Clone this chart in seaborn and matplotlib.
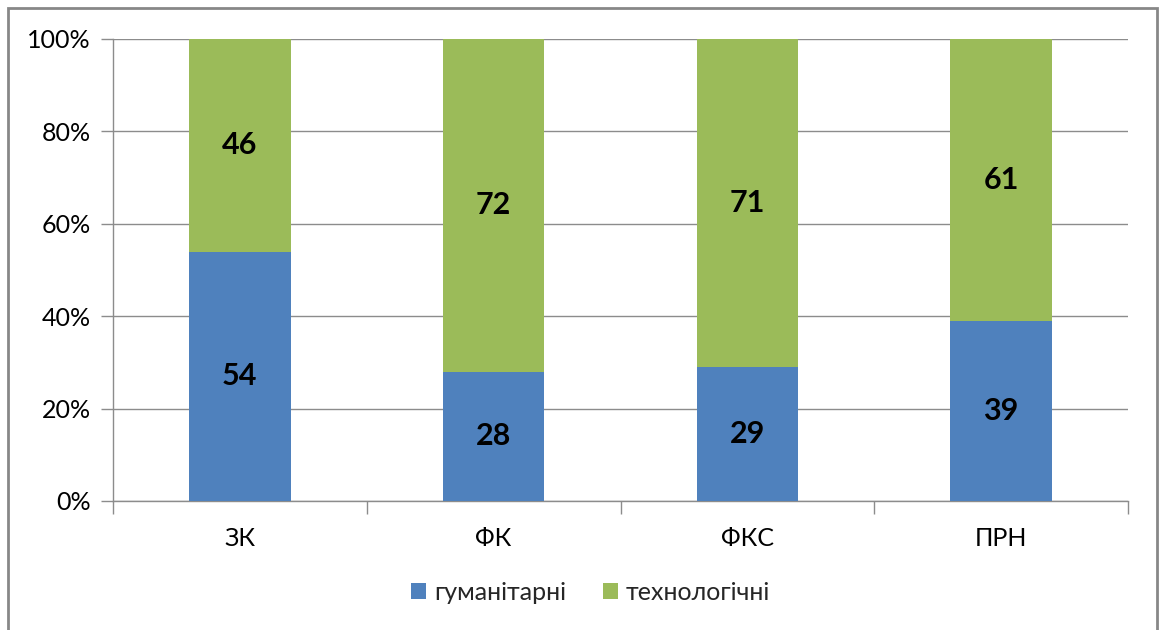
import pandas as pd
import seaborn as sns
import matplotlib.pyplot as plt
from matplotlib.patches import Rectangle
from matplotlib.ticker import FixedLocator, PercentFormatter

# data
categories = ["ЗК", "ФК", "ФКС", "ПРН"]
humanitarian = [54, 28, 29, 39]
technological = [46, 72, 71, 61]
series_names = ["гуманітарні", "технологічні"]

blue = "#4F81BD"
green = "#9BBB59"
grid_col = "#8C8C8C"

sns.set_style("white")
plt.rcParams["font.family"] = ["Lato", "DejaVu Sans"]

df = pd.DataFrame({"cat": categories, "hum": humanitarian, "tech": technological})

fig = plt.figure(figsize=(11.63, 6.3), dpi=100)
ax = fig.add_axes([113 / 1163, 129 / 630, 1015 / 1163, 462 / 630])

# bottom segment
sns.barplot(data=df, x="cat", y="hum", color=blue, width=0.4, saturation=1,
            linewidth=0, ax=ax, label=series_names[0], zorder=3)
# top segment stacked on the bottom one
sns.barplot(data=df, x="cat", y="tech", color=green, width=0.4, saturation=1,
            linewidth=0, bottom=df["hum"], ax=ax, label=series_names[1], zorder=3)

for cont in ax.containers:
    ax.bar_label(cont, labels=[f"{v:.0f}" for v in cont.datavalues],
                 label_type="center", fontsize=22, fontweight="bold", color="black")

ax.set_ylim(0, 100)
ax.set_xlim(-0.5, len(categories) - 0.5)
ax.set_yticks(range(0, 101, 20))
ax.yaxis.set_major_formatter(PercentFormatter(decimals=0))
ax.yaxis.grid(True, color=grid_col, linewidth=1, zorder=0)
ax.set_xlabel("")
ax.set_ylabel("")

# category dividers as ticks below the axis
ax.xaxis.set_minor_locator(FixedLocator([i - 0.5 for i in range(len(categories) + 1)]))
ax.tick_params(axis="x", which="major", length=0, pad=19, labelsize=18, colors="black")
ax.tick_params(axis="x", which="minor", length=9, width=1, color=grid_col, bottom=True)
ax.tick_params(axis="y", length=9, width=1, color=grid_col, left=True, pad=7,
               labelsize=18, labelcolor="black")

for s in ["top", "right"]:
    ax.spines[s].set_visible(False)
for s in ["left", "bottom"]:
    ax.spines[s].set_color(grid_col)
    ax.spines[s].set_linewidth(1)

leg = ax.legend(loc="center", bbox_to_anchor=(0.508, 0.06), bbox_transform=fig.transFigure,
                ncol=2, frameon=False, fontsize=18, handlelength=0.6, handleheight=0.6,
                handletextpad=0.3, columnspacing=1.5)

# outer chart border
fig.patches.append(Rectangle((8 / 1163, -0.02), 1149 / 1163, 1.02 - 8 / 630,
                             transform=fig.transFigure, fill=False,
                             edgecolor="#878787", linewidth=2))

fig.savefig("out.png", dpi=100)
